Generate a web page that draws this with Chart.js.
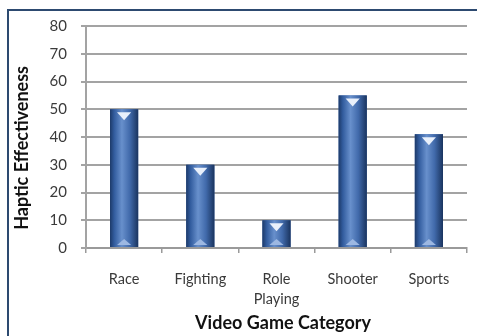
<!DOCTYPE html>
<html>
<head>
<meta charset="utf-8">
<script src="https://cdn.jsdelivr.net/npm/chart.js@4"></script>
<style>
  html, body { margin: 0; padding: 0; background: #fff; }
  #wrap { position: relative; width: 477px; height: 336px; }
  #frame { position: absolute; left: 7px; top: 9px; width: 480px; height: 340px;
           border-left: 2px solid #2d4a70; border-top: 2px solid #2d4a70; box-sizing: border-box; pointer-events: none; }
</style>
</head>
<body>
<div id="wrap">
  <canvas id="myChart" width="477" height="336"></canvas>
  <div id="frame"></div>
</div>
<script>
var categories = ['Race', 'Fighting', ['Role', 'Playing'], 'Shooter', 'Sports'];
var effectiveness = [50, 30, 10, 55, 41];
var yTicks = [0, 10, 20, 30, 40, 50, 60, 70, 80];

// shade each bar like a rounded tube with the little chevrons at the ends
var tubeBars = {
  id: 'tubeBars',
  afterDatasetsDraw: function(chart) {
    var c = chart.ctx;
    chart.getDatasetMeta(0).data.forEach(function(bar) {
      var l = bar.x - bar.width / 2, r = bar.x + bar.width / 2;
      var top = bar.y, bot = bar.base;
      var g = c.createLinearGradient(l, 0, r, 0);
      g.addColorStop(0, '#1d3a69');
      g.addColorStop(0.15, '#325c9e');
      g.addColorStop(0.42, '#6890cc');
      g.addColorStop(0.7, '#416aab');
      g.addColorStop(1, '#1a345f');
      c.save();
      c.fillStyle = g;
      c.fillRect(l, top, r - l, bot - top);
      // top chevron
      var cw = bar.width * 0.5;
      var h = Math.min(8, (bot - top) / 2 - 1);
      c.fillStyle = '#e9f0fb';
      c.beginPath();
      c.moveTo(bar.x - cw / 2, top + 3);
      c.lineTo(bar.x + cw / 2, top + 3);
      c.lineTo(bar.x, top + 3 + h);
      c.closePath();
      c.fill();
      // bottom chevron
      c.fillStyle = '#9db8e2';
      c.beginPath();
      c.moveTo(bar.x - cw / 2, bot - 2);
      c.lineTo(bar.x + cw / 2, bot - 2);
      c.lineTo(bar.x, bot - 2 - Math.min(6, h));
      c.closePath();
      c.fill();
      c.restore();
    });
  }
};

var ctx = document.getElementById('myChart');
var myChart = new Chart(ctx, {
  type: 'bar',
  data: {
    labels: categories,
    datasets: [{
      data: effectiveness,
      backgroundColor: '#3a64a8',
      barPercentage: 0.37,
      categoryPercentage: 1
    }]
  },
  plugins: [tubeBars],
  options: {
    responsive: false,
    animation: false,
    layout: { padding: { left: 11, right: 10, top: 26, bottom: 2 } },
    plugins: { legend: { display: false }, tooltip: { enabled: false } },
    scales: {
      x: {
        grid: { offset: true, drawOnChartArea: false, tickLength: 5, color: '#9a9a9a', lineWidth: 1.5 },
        border: { color: '#9a9a9a', width: 2 },
        ticks: { color: '#3a3a3a', padding: 17, font: { family: 'Lato', size: 14.5, lineHeight: 1.35 } },
        title: { display: true, text: '   Video Game Category', color: '#111',
                 font: { family: 'Lato', size: 18, weight: 'bold' }, padding: { top: 0, bottom: 0 } },
        afterFit: function(s) { s.height = 86; }
      },
      y: {
        min: 0, max: 80,
        afterBuildTicks: function(s) { s.ticks = yTicks.map(function(v) { return { value: v }; }); },
        grid: { color: '#a3a3a3', lineWidth: 2, tickLength: 5 },
        border: { color: '#a3a3a3', width: 2 },
        ticks: { color: '#3a3a3a', padding: 14, font: { family: 'Lato', size: 15 } },
        title: { display: true, text: 'Haptic Effectiveness     ', color: '#111',
                 font: { family: 'Lato', size: 18, weight: 'bold' }, padding: { top: 0, bottom: 0 } },
        afterFit: function(s) { s.width = 75; }
      }
    }
  }
});
</script>
</body>
</html>
